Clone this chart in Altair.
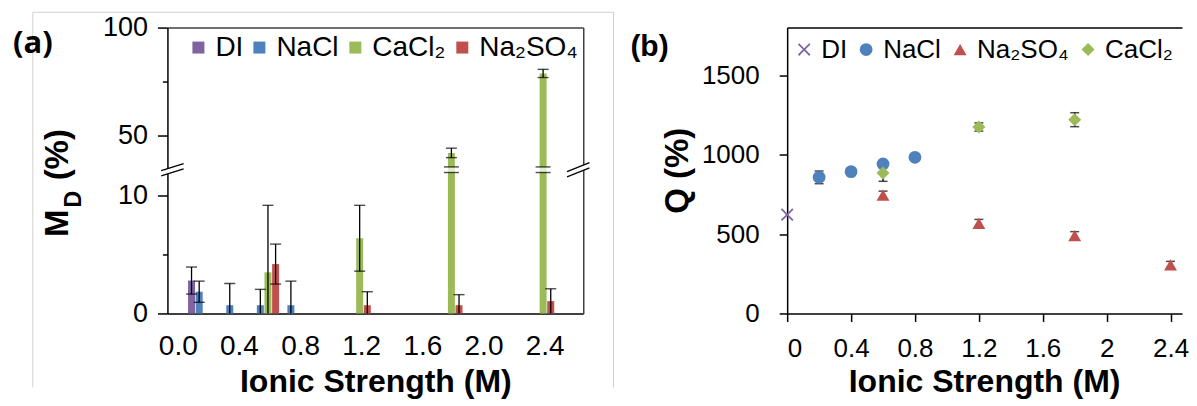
import altair as alt
import pandas as pd

# ---------------- Panel (a): M_D (%) vs ionic strength (bars, broken y axis) -------------
A_SERIES = ["DI", "NaCl", "CaCl₂", "Na₂SO₄"]
A_COLORS = ["#8064A2", "#4F81BD", "#9BBB59", "#C0504D"]

DI_X = [0.09]
DI_MD = [2.8]
DI_MD_ERR = [1.15]

NACL_X = [0.14, 0.34, 0.54, 0.74]
NACL_MD = [1.85, 0.7, 0.7, 0.7]
NACL_MD_ERR = [0.9, 1.85, 1.35, 2.05]

CACL2_X = [0.59, 1.19, 1.79, 2.39]
CACL2_MD = [3.5, 6.4, 41.8, 78.7]
CACL2_MD_ERR = [5.7, 2.8, 2.2, 1.9]

NA2SO4_X = [0.64, 1.24, 1.84, 2.44]
NA2SO4_MD = [4.2, 0.7, 0.7, 1.05]
NA2SO4_MD_ERR = [1.7, 1.15, 0.9, 1.05]

A_XTICKS = [0.0, 0.4, 0.8, 1.2, 1.6, 2.0, 2.4]
A_YTICKS = [0, 5, 10, 50, 75, 100]
A_YLABELED = [0, 10, 50, 100]
A_YMINOR = [5, 75]

# ---------------- Panel (b): Q (%) vs ionic strength (points) ----------------
B_SERIES = ["DI", "NaCl", "Na₂SO₄", "CaCl₂"]
B_COLORS = ["#8064A2", "#4F81BD", "#C0504D", "#9BBB59"]

DI_IS = [0.0]
DI_Q = [622]
DI_Q_ERR = [0]

NACL_IS = [0.2, 0.4, 0.6, 0.8]
NACL_Q = [857, 893, 941, 983]
NACL_Q_ERR = [40, 10, 10, 10]

NA2SO4_IS = [0.6, 1.2, 1.8, 2.4]
NA2SO4_Q = [745, 567, 490, 306]
NA2SO4_Q_ERR = [25, 25, 25, 22]

CACL2_IS = [0.6, 1.2, 1.8]
CACL2_Q = [884, 1174, 1220]
CACL2_Q_ERR = [52, 26, 44]

B_XTICKS = [0, 0.4, 0.8, 1.2, 1.6, 2.0, 2.4]
B_YTICKS = [0, 500, 1000, 1500]

# ---------------- geometry ----------------
A_W, A_H = 416, 286
A_XMIN, A_XMAX = -0.035, 2.62
LOW_TOP = 12.23      # top of lower segment
UP_BOTTOM = 34.0     # bottom of upper segment
UP_TOP = 100.0
UP_RATIO = 2.155 / 11.76


def disp(v):
    if v <= LOW_TOP:
        return v
    return LOW_TOP + (max(v, UP_BOTTOM) - UP_BOTTOM) * UP_RATIO


A_YMAX = disp(UP_TOP)
PX_X = A_W / (A_XMAX - A_XMIN)
PX_Y = A_H / A_YMAX

B_W, B_H = 395, 286
B_XMAX = B_W / 159.8
B_YMAX = 1800

FONT = "Liberation Sans"

# ---------------- panel (a) data frame ----------------
rows = []
for name, xs, vs, es in [("DI", DI_X, DI_MD, DI_MD_ERR),
                         ("NaCl", NACL_X, NACL_MD, NACL_MD_ERR),
                         ("CaCl₂", CACL2_X, CACL2_MD, CACL2_MD_ERR),
                         ("Na₂SO₄", NA2SO4_X, NA2SO4_MD, NA2SO4_MD_ERR)]:
    for x, v, e in zip(xs, vs, es):
        lo = v - e
        rows.append(dict(series=name, x=x, v=v, yd=disp(v), top=disp(v + e),
                         low=disp(max(lo, 0.0)), haslow=bool(lo > 0)))
dfa = pd.DataFrame(rows)

xa = alt.Scale(domain=[A_XMIN, A_XMAX], nice=False, zero=False)
ya = alt.Scale(domain=[0, A_YMAX], nice=False, zero=False)

label_expr = " : ".join(
    f"abs(datum.value - {disp(t):.5f}) < 0.001 ? '{t}'" for t in A_YLABELED) + " : ''"
minor_test = " || ".join(f"abs(datum.value - {disp(t):.5f}) < 0.001" for t in A_YMINOR)

bars = alt.Chart(dfa).mark_bar(size=7).encode(
    x=alt.X("x:Q", scale=xa, axis=alt.Axis(
        values=A_XTICKS, format=".1f", ticks=False, labelFontSize=28, labelPadding=19,
        labelColor="black", domainColor="black", domainWidth=1.5, grid=False,
        title="Ionic Strength (M)", titleFontSize=32, titleFontWeight="bold",
        titleColor="black", titleBaseline="middle", titleY=68.5)),
    y=alt.Y("yd:Q", scale=ya, axis=alt.Axis(
        values=[disp(t) for t in A_YTICKS], labelExpr=label_expr,
        tickSize={"condition": {"test": minor_test, "value": 5}, "value": 10},
        tickColor="black", tickWidth=1.5, labelPadding=10, labelFontSize=27,
        labelColor="black", domainColor="black", domainWidth=1.5, title=None, grid=False)),
    color=alt.Color("series:N", scale=alt.Scale(domain=A_SERIES, range=A_COLORS),
                    legend=alt.Legend(orient="none", legendX=17, legendY=6,
                                      direction="horizontal", columns=4, title=None,
                                      symbolType="square", symbolSize=144,
                                      symbolStrokeWidth=0, labelFontSize=28,
                                      labelFont=FONT, labelColor="black",
                                      labelOffset=3, columnPadding=2, padding=0)),
)

err_a = alt.Chart(dfa).mark_rule(color="black", strokeWidth=1.3).encode(
    x=alt.X("x:Q", scale=xa, axis=alt.Axis(orient="top", labels=False, ticks=False,
                                           domainColor="#404040", domainWidth=1.5,
                                           title=None, grid=False)),
    y=alt.Y("low:Q", scale=ya, axis=alt.Axis(orient="right", labels=False, ticks=False,
                                             domainColor="#404040", domainWidth=1.5,
                                             title=None, grid=False)),
    y2="top:Q",
)
cap_top_a = alt.Chart(dfa).mark_tick(orient="horizontal", size=11, thickness=1.4,
                                     color="black").encode(
    x=alt.X("x:Q", scale=xa, axis=None), y=alt.Y("top:Q", scale=ya, axis=None))
cap_low_a = alt.Chart(dfa).transform_filter("datum.haslow").mark_tick(
    orient="horizontal", size=11, thickness=1.4, color="black").encode(
    x=alt.X("x:Q", scale=xa, axis=None), y=alt.Y("low:Q", scale=ya, axis=None))

# break marks on the tall bars
tall = alt.Chart(dfa).transform_filter(f"datum.v > {LOW_TOP}")
gap = 2.8 / PX_Y
bar_gap_white = tall.mark_tick(orient="horizontal", size=16, thickness=5, color="white").encode(
    x=alt.X("x:Q", scale=xa, axis=None), y=alt.YDatum(LOW_TOP, scale=ya, axis=None))
bar_gap_lo = tall.mark_tick(orient="horizontal", size=15, thickness=1.4, color="black").encode(
    x=alt.X("x:Q", scale=xa, axis=None), y=alt.YDatum(LOW_TOP - gap, scale=ya, axis=None))
bar_gap_hi = tall.mark_tick(orient="horizontal", size=15, thickness=1.4, color="black").encode(
    x=alt.X("x:Q", scale=xa, axis=None), y=alt.YDatum(LOW_TOP + gap, scale=ya, axis=None))


def slash(x0, off_px, rise_px):
    dx = 11.5 / PX_X
    dr = rise_px / PX_Y
    g = off_px / PX_Y
    return dict(x1=x0 - dx, x2=x0 + dx, y1=LOW_TOP + g - dr, y2=LOW_TOP + g + dr)


brk_white = pd.DataFrame([slash(A_XMIN, 0, 3.5), slash(A_XMAX, 0, 4.5)])
brk_black = pd.DataFrame([slash(A_XMIN, -2.6, 3.5), slash(A_XMIN, 2.6, 3.5),
                          slash(A_XMAX, -2.6, 4.5), slash(A_XMAX, 2.6, 4.5)])
axis_brk_white = alt.Chart(brk_white).mark_rule(color="white", strokeWidth=5).encode(
    x=alt.X("x1:Q", scale=xa, axis=None), x2="x2:Q",
    y=alt.Y("y1:Q", scale=ya, axis=None), y2="y2:Q")
axis_brk_black = alt.Chart(brk_black).mark_rule(color="black", strokeWidth=1.3).encode(
    x=alt.X("x1:Q", scale=xa, axis=None), x2="x2:Q",
    y=alt.Y("y1:Q", scale=ya, axis=None), y2="y2:Q")

one = pd.DataFrame({"k": [0]})
BOX = "#d0d0d0"
box_l = alt.Chart(one).mark_rule(color=BOX, strokeWidth=1).encode(
    x=alt.value(-134.7), y=alt.value(-15.3), y2=alt.value(360))
box_r = alt.Chart(one).mark_rule(color=BOX, strokeWidth=1).encode(
    x=alt.value(446.3), y=alt.value(-15.3), y2=alt.value(360))
box_t = alt.Chart(one).mark_rule(color=BOX, strokeWidth=1).encode(
    x=alt.value(-134.7), x2=alt.value(446.3), y=alt.value(-15.3))

lab_a = alt.Chart(one).mark_text(text="(a)", font="Open Sans", fontWeight="bold", fontSize=31,
                                 align="center", baseline="middle", color="black").encode(
    x=alt.value(-134.7), y=alt.value(16.7))
yt_m = alt.Chart(one).mark_text(text="M", font=FONT, fontWeight="bold", fontSize=33,
                                angle=270, align="center", baseline="middle",
                                color="black").encode(x=alt.value(-109.2), y=alt.value(195.7))
yt_d = alt.Chart(one).mark_text(text="D", font=FONT, fontWeight="bold", fontSize=23,
                                angle=270, align="center", baseline="middle",
                                color="black").encode(x=alt.value(-93.2), y=alt.value(171.7))
yt_p = alt.Chart(one).mark_text(text="(%)", font=FONT, fontWeight="bold", fontSize=33,
                                angle=270, align="center", baseline="middle",
                                color="black").encode(x=alt.value(-109.7), y=alt.value(127.2))

panel_a = alt.layer(
    box_l, box_r, box_t,
    bars, err_a, cap_top_a, cap_low_a,
    bar_gap_white, bar_gap_lo, bar_gap_hi,
    axis_brk_white, axis_brk_black,
    lab_a, yt_m, yt_d, yt_p,
).resolve_axis(x="independent", y="independent").properties(width=A_W, height=A_H)

# ---------------- panel (b) ----------------
rows = []
for name, xs, qs, es in [("DI", DI_IS, DI_Q, DI_Q_ERR),
                         ("NaCl", NACL_IS, NACL_Q, NACL_Q_ERR),
                         ("Na₂SO₄", NA2SO4_IS, NA2SO4_Q, NA2SO4_Q_ERR),
                         ("CaCl₂", CACL2_IS, CACL2_Q, CACL2_Q_ERR)]:
    for x, q, e in zip(xs, qs, es):
        rows.append(dict(series=name, x=x, q=q, lo=q - e, hi=q + e, has=e > 0))
dfb = pd.DataFrame(rows)

XPATH = ("M-1,-0.8L-0.8,-1L0,-0.2L0.8,-1L1,-0.8L0.2,0L1,0.8L0.8,1"
         "L0,0.2L-0.8,1L-1,0.8L-0.2,0Z")
xb = alt.Scale(domain=[0, B_XMAX], nice=False, zero=False)
yb = alt.Scale(domain=[0, B_YMAX], nice=False, zero=False)

legend_b = alt.Legend(orient="none", legendX=4, legendY=9, direction="horizontal",
                      columns=4, title=None, symbolSize=120, symbolStrokeWidth=0,
                      labelFontSize=26, labelFont=FONT, labelColor="black",
                      labelOffset=4, columnPadding=6, padding=0)

err_b = alt.Chart(dfb).transform_filter("datum.has").mark_rule(
    color="black", strokeWidth=1.4).encode(
    x=alt.X("x:Q", scale=xb, axis=alt.Axis(orient="top", labels=False, ticks=False,
                                           domainColor="black", domainWidth=1.5,
                                           title=None, grid=False)),
    y=alt.Y("lo:Q", scale=yb, axis=None), y2="hi:Q")
cap_b_hi = alt.Chart(dfb).transform_filter("datum.has").mark_tick(
    orient="horizontal", size=9, thickness=1.5, color="black").encode(
    x=alt.X("x:Q", scale=xb, axis=None), y=alt.Y("hi:Q", scale=yb, axis=None))
cap_b_lo = alt.Chart(dfb).transform_filter("datum.has").mark_tick(
    orient="horizontal", size=9, thickness=1.5, color="black").encode(
    x=alt.X("x:Q", scale=xb, axis=None), y=alt.Y("lo:Q", scale=yb, axis=None))

pts = alt.Chart(dfb).mark_point(filled=True, opacity=1).encode(
    x=alt.X("x:Q", scale=xb, axis=alt.Axis(
        values=B_XTICKS, format="~g", tickSize=8, tickColor="black", tickWidth=1.5,
        domainColor="black", domainWidth=1.5, labelFontSize=26, labelColor="black",
        labelPadding=14, grid=False, title="Ionic Strength (M)", titleFontSize=32,
        titleFontWeight="bold", titleColor="black", titleBaseline="middle",
        titleX=197, titleY=68.5)),
    y=alt.Y("q:Q", scale=yb, axis=alt.Axis(
        values=B_YTICKS, format="d", tickSize=8, tickColor="black", tickWidth=1.5,
        domainColor="black", domainWidth=1.5, labelFontSize=26, labelColor="black",
        labelPadding=20, grid=False, title=None)),
    color=alt.Color("series:N", scale=alt.Scale(domain=B_SERIES, range=B_COLORS),
                    legend=legend_b),
    shape=alt.Shape("series:N", scale=alt.Scale(
        domain=B_SERIES, range=[XPATH, "circle", "triangle-up", "diamond"]),
        legend=legend_b),
    size=alt.Size("series:N", scale=alt.Scale(domain=B_SERIES, range=[160, 170, 185, 150]),
                  legend=None),
)

lab_b = alt.Chart(one).mark_text(text="(b)", font=FONT, fontWeight="bold", fontSize=30,
                                 align="center", baseline="middle", color="black").encode(
    x=alt.value(-137.7), y=alt.value(19.2))
yt_q = alt.Chart(one).mark_text(text="Q (%)", font=FONT, fontWeight="bold", fontSize=33,
                                angle=270, align="center", baseline="middle",
                                color="black").encode(x=alt.value(-109.7), y=alt.value(143.2))
spacer_b = alt.Chart(one).mark_rule(strokeOpacity=0).encode(
    x=alt.value(0), x2=alt.value(10), y=alt.value(-15.3))

panel_b = alt.layer(
    spacer_b, err_b, cap_b_hi, cap_b_lo, pts, lab_b, yt_q,
).resolve_axis(x="independent", y="independent").properties(width=B_W, height=B_H)

chart = alt.hconcat(panel_a, panel_b, spacing=16).resolve_scale(
    color="independent", shape="independent", size="independent"
).resolve_legend(color="independent", shape="independent").properties(
    padding={"left": 4.5, "top": 3.5, "right": 0, "bottom": 0}
).configure(font=FONT).configure_view(stroke=None).configure_axis(grid=False)

chart.save("out.html", embed_options={"renderer": "svg", "actions": False})
